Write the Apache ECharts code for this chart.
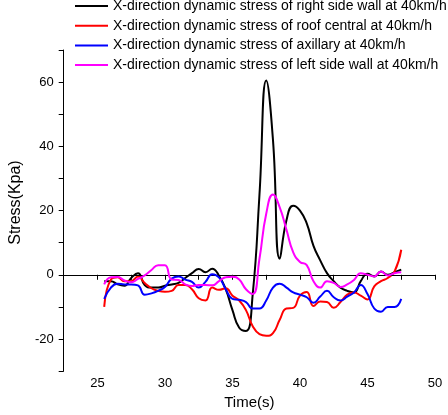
<!DOCTYPE html>
<html>
<head>
<meta charset="utf-8">
<script src="https://cdn.jsdelivr.net/npm/echarts@6/dist/echarts.min.js"></script>
<style>
  html, body { margin: 0; padding: 0; background: #fff; }
  #chart { width: 448px; height: 415px; }
</style>
</head>
<body>
<div id="chart"></div>
<script>
// time samples (s), one every 0.5 s
const time = [
  25.5, 26, 26.5, 27, 27.5, 28, 28.5, 29, 29.5, 30,
  30.5, 31, 31.5, 32, 32.5, 33, 33.5, 34, 34.5, 35,
  35.5, 36, 36.5, 37, 37.5, 38, 38.5, 39, 39.5, 40,
  40.5, 41, 41.5, 42, 42.5, 43, 43.5, 44, 44.5, 45,
  45.5, 46, 46.5, 47, 47.5
]

// stress values (Kpa)
const rightSideWall = [
  -2, -2, -3, -3.4, -1, 0.5, -3.2, -4, -4, -3.4,
  -3, -2.5, -1, 0.5, 1.8, 0.8, 1.9, -0.3, -4.5, -11,
  -16.5, -17.5, -6, 25, 60.5, 42, 5, 17, 21.5, 20,
  16, 9, 4.5, 0.5, -2, -4, -5, -5.5, -2, 0.3,
  -0.5, 1, 0, 0.8, 1.6
]
const roofCentral = [
  -10, -1.5, -0.8, -2, -2, -0.5, -2.6, -4.2, -5, -5.3,
  -5, -3.2, -3.2, -4.5, -7.3, -8, -4, -4.7, -4.2, -6.5,
  -8, -11, -16, -18.5, -19, -18.2, -14, -10.5, -10.3, -6.5,
  -5.4, -9.7, -8.3, -8.5, -10.3, -8.5, -6.2, -5.5, -6.5, -7.7,
  -3.6, -2, -1, 1, 7.8
]
const axillary = [
  -7.5, -4, -2.8, -3, -3, -3.3, -6.2, -5.8, -5, -3.8,
  -1.2, -0.5, -1.5, -2.2, -4, -2.2, 0.2, -0.8, -4.5, -7.5,
  -7.8, -8.5, -10.5, -10.5, -8, -4, -2.8, -4, -5.5, -6.2,
  -7, -8.7, -6.8, -5, -7, -8, -6.8, -5.5, -3.2, -6,
  -10.5, -11.5, -10, -10, -7.5
]
const leftSideWall = [
  -3, -0.8, -0.7, -1.8, -2.3, -1.3, -0.2, 1.5, 3, 3,
  -1.5, -1.6, -3, -3.5, -3.2, -3.2, -3.3, -2, -0.8, -0.6,
  -1.5, -4.5, -6, 5, 19, 25, 21, 14, 7, 4,
  3, -2, -4, -2, -2.5, -3.8, -3, -1.6, 0.5, 0,
  -0.5, 1, -0.2, 0.5, 0.8
]

const seriesNames = [
  'X-direction dynamic stress of right side wall at 40km/h',
  'X-direction dynamic stress of roof central at 40km/h',
  'X-direction dynamic stress of axillary at 40km/h',
  'X-direction dynamic stress of left side wall at 40km/h'
]
const seriesColors = ['#000000', '#ff0000', '#0000ff', '#ff00ff']
const seriesValues = [rightSideWall, roofCentral, axillary, leftSideWall]

const font = 'Arial, "Liberation Sans", sans-serif'

const chart = echarts.init(document.getElementById('chart'))

const series = seriesValues.map((vals, i) => ({
  name: seriesNames[i],
  type: 'line',
  smooth: 0.5,
  symbol: 'none',
  data: time.map((t, j) => [t, vals[j]]),
  lineStyle: { color: seriesColors[i], width: 2 },
  itemStyle: { color: seriesColors[i] },
  z: 3 + i
}))

// zero reference line
series[0].markLine = {
  silent: true,
  symbol: 'none',
  label: { show: false },
  lineStyle: { color: '#000', width: 1, type: 'solid' },
  data: [{ yAxis: 0 }]
}

chart.setOption({
  animation: false,
  backgroundColor: '#fff',
  textStyle: { fontFamily: font },
  legend: {
    orient: 'vertical',
    left: 75,
    top: -1,
    padding: 0,
    icon: 'rect',
    itemWidth: 33,
    itemHeight: 2,
    itemGap: 5.7,
    textStyle: { fontFamily: font, fontSize: 14, color: '#000' },
    data: seriesNames
  },
  grid: { left: 57, right: 13, top: 50, bottom: 43.5, containLabel: false },
  xAxis: {
    type: 'value',
    min: 22.5,
    max: 50,
    interval: 2.5,
    name: 'Time(s)',
    nameLocation: 'middle',
    nameGap: 18,
    nameTextStyle: { fontFamily: font, fontSize: 15, color: '#000' },
    axisLine: { lineStyle: { color: '#000', width: 1 } },
    axisTick: { length: 5, lineStyle: { color: '#000' } },
    axisLabel: {
      color: '#000',
      fontSize: 13,
      margin: 6,
      formatter: v => (v % 5 === 0 ? String(v) : '')
    },
    splitLine: { show: false }
  },
  yAxis: {
    type: 'value',
    min: -30,
    max: 70,
    interval: 10,
    name: 'Stress(Kpa)',
    nameLocation: 'middle',
    nameGap: 28,
    nameTextStyle: { fontFamily: font, fontSize: 16, color: '#000', padding: [0, 0, 0, 16] },
    axisLine: { show: true, lineStyle: { color: '#000', width: 1 } },
    axisTick: { show: true, length: 5, lineStyle: { color: '#000' } },
    axisLabel: {
      color: '#000',
      fontSize: 13,
      margin: 10,
      formatter: v => (v % 20 === 0 ? String(v) : '')
    },
    splitLine: { show: false }
  },
  series: series
})
</script>
</body>
</html>
